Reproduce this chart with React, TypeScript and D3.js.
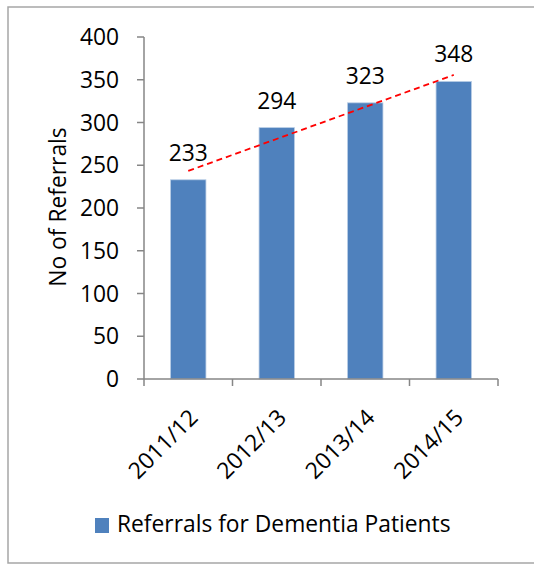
import React from "react";
import * as d3 from "d3";

const categories = ["2011/12", "2012/13", "2013/14", "2014/15"];
const referrals = [233, 294, 323, 348];
const yTicks = [0, 50, 100, 150, 200, 250, 300, 350, 400];
const seriesName = "Referrals for Dementia Patients";
const yTitle = "No of Referrals";

const W = 534;
const H = 565;
const FONT = "'Open Sans', 'DejaVu Sans', sans-serif";
const FS = 22.8;

export default function App() {
  const x0 = 144, x1 = 498, yTop = 37, yBot = 379;
  const x = d3.scaleBand().domain(categories).range([x0, x1]).paddingInner(0.6).paddingOuter(0.3);
  const xb = d3.scaleBand().domain(categories).range([x0, x1]);
  const y = d3.scaleLinear().domain([0, 400]).range([yBot, yTop]);

  // linear trendline (least squares)
  const n = referrals.length;
  const xs = referrals.map((_, i) => i + 1);
  const mx = d3.mean(xs)!;
  const my = d3.mean(referrals)!;
  const slope = d3.sum(xs.map((xi, i) => (xi - mx) * (referrals[i] - my))) / d3.sum(xs.map((xi) => (xi - mx) ** 2));
  const icpt = my - slope * mx;
  const trend: [number, number][] = [
    [xb(categories[0])! + xb.bandwidth() / 2, y(icpt + slope * 1)],
    [xb(categories[n - 1])! + xb.bandwidth() / 2, y(icpt + slope * n)],
  ];
  const line = d3.line();

  const axisColor = "#868686";
  return (
    <svg width={W} height={H} style={{ position: "absolute", left: 0, top: 0, background: "#fff" }} fontFamily={FONT}>
      <rect x={8} y={7} width={W} height={556} fill="#fff" stroke="#a6a6a6" strokeWidth={1.5} />
      {/* bars */}
      {categories.map((c, i) => (
        <rect key={c} x={x(c)} y={y(referrals[i])} width={x.bandwidth()} height={yBot - y(referrals[i])}
          fill="#4F81BD" stroke="#b9cde5" strokeWidth={0.8} />
      ))}
      {/* y axis */}
      <line x1={x0} x2={x0} y1={yTop} y2={yBot} stroke={axisColor} strokeWidth={1.5} />
      {yTicks.map((t) => (
        <g key={t}>
          <line x1={x0 - 7} x2={x0} y1={y(t)} y2={y(t)} stroke={axisColor} strokeWidth={1.5} />
          <text x={119} y={y(t)} dy="0.36em" textAnchor="end" fontSize={FS} fill="#000">{t}</text>
        </g>
      ))}
      {/* x axis */}
      <line x1={x0} x2={x1} y1={yBot} y2={yBot} stroke={axisColor} strokeWidth={1.5} />
      {[...categories.map((c) => xb(c)!), x1].map((v, i) => (
        <line key={i} x1={v} x2={v} y1={yBot} y2={yBot + 7} stroke={axisColor} strokeWidth={1.5} />
      ))}
      {categories.map((c) => {
        const cx = xb(c)! + xb.bandwidth() / 2;
        return (
          <text key={c} transform={`translate(${cx + 11},${419}) rotate(-45)`} textAnchor="end" fontSize={FS} fill="#000">{c}</text>
        );
      })}
      {/* trendline */}
      <path d={line(trend)!} fill="none" stroke="#FF0000" strokeWidth={1.8} strokeDasharray="6,4" />
      {/* data labels */}
      {categories.map((c, i) => (
        <text key={c} x={xb(c)! + xb.bandwidth() / 2} y={y(referrals[i]) - 19} textAnchor="middle" fontSize={FS} fill="#000">{referrals[i]}</text>
      ))}
      {/* y title */}
      <text transform={`translate(66,207) rotate(-90)`} textAnchor="middle" fontSize={FS} fill="#000">{yTitle}</text>
      {/* legend */}
      <rect x={95} y={518} width={14} height={15} fill="#4F81BD" />
      <text x={117} y={532} fontSize={FS} fill="#000">{seriesName}</text>
    </svg>
  );
}
